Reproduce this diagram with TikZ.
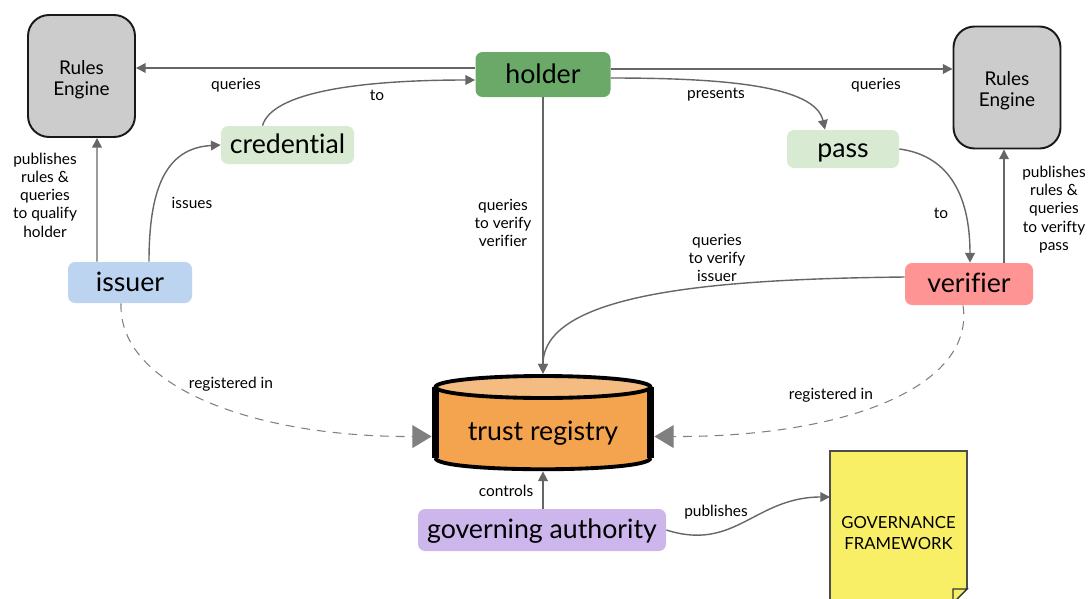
\documentclass[tikz,border=0pt]{standalone}
\usepackage{fontspec}
\setmainfont{Lato}[Ligatures=NoCommon]
\usetikzlibrary{arrows.meta}

\tikzset{
  party/.style={rounded corners=4pt, minimum height=#1*0.02cm, inner sep=0pt, text height=13.2pt, text depth=3pt, font=\fontsize{15.2}{16}\selectfont},
  engine/.style={draw=black!90, line width=1.1pt, fill=black!20, rounded corners=12pt, minimum width=107*0.02cm, minimum height=122*0.02cm, align=center, font=\fontsize{10.8}{12}\selectfont},
  lbl/.style={align=center, inner sep=0pt, font=\fontsize{8.8}{10.4}\selectfont},
  conn/.style={draw=black!60, line width=0.8pt, -{Triangle[length=5.5pt,width=5.5pt]}},
  regline/.style={draw=black!50, line width=0.6pt, dash pattern=on 5pt off 4pt, -{Triangle[length=11pt,width=13pt,color=black!50,fill=black!50]}}
}

\definecolor{holdergreen}{HTML}{6AA968}
\definecolor{palegreen}{HTML}{D9EAD3}
\definecolor{issuerblue}{HTML}{BDD4F1}
\definecolor{verifierred}{HTML}{FF9494}
\definecolor{authpurple}{HTML}{CCB6EC}
\definecolor{regorange}{HTML}{F4A44E}
\definecolor{regtop}{HTML}{F4BC80}
\definecolor{docyellow}{HTML}{F9EF66}

\begin{document}
\begin{tikzpicture}[x=0.02cm, y=-0.02cm, >=Stealth]
    \useasboundingbox (0,0) rectangle (1090,599);

    % Engines
    \node[engine] (ruleleft) at (81.5,76) {\rule{0pt}{12pt}Rules\\Engine};
    \node[engine] (ruleright) at (1007,87.5) {\rule{0pt}{12pt}Rules\\Engine};

    % --- Parties ---
    \node[party=45, fill=holdergreen, minimum width=135*0.02cm] (holder) at (543,74.5) {holder};
    \node[party=38, fill=palegreen, minimum width=133*0.02cm] (credential) at (287.5,145) {credential};
    \node[party=38, fill=palegreen, minimum width=112*0.02cm] (pass) at (843,149) {pass};
    \node[party=41, fill=issuerblue, minimum width=124*0.02cm] (issuer) at (130,282.5) {issuer};
    \node[party=42, fill=verifierred, minimum width=128*0.02cm] (verifier) at (969,284) {verifier};
    \node[party=42, fill=authpurple, minimum width=248*0.02cm] (authority) at (542,530) {governing authority};

    % Registry
    \fill[regorange] (435.5,387) -- (435.5,458) .. controls (435.5,473) and (650.5,473) .. (650.5,458) -- (650.5,387) -- cycle;
    \draw[black, line width=2.2pt] (435.5,458) .. controls (435.5,473) and (650.5,473) .. (650.5,458);
    \draw[black, line width=4pt] (435.5,387) -- (435.5,458);
    \draw[black, line width=4pt] (650.5,387) -- (650.5,458);
    \draw[black, line width=2.2pt, fill=regtop] (543,387) ellipse [x radius=2.15cm, y radius=0.22cm];
    \node[minimum width=222*0.02cm, minimum height=97*0.02cm, inner sep=0pt, text height=13.2pt, text depth=3pt, yshift=-9*0.02cm, font=\fontsize{15.2}{16}\selectfont] (registrytext) at (543,422.5) {trust registry};
    \node[minimum width=222*0.02cm, minimum height=97*0.02cm, inner sep=0pt] (registry) at (543,422.5) {};

    % Framework
    \node[draw=black!70, line width=0.8pt, fill=docyellow, minimum width=137*0.02cm, minimum height=164*0.02cm, inner sep=0pt, align=center, font=\fontsize{9.5}{11.4}\selectfont] (framework) at (898.5,533) {GOVERNANCE\\FRAMEWORK};
    \coordinate (frameworkin) at (830,497);
    \fill[white] (953,603) -- (967,589) -- (970,589) -- (970,603) -- cycle;
    \draw[black!80, line width=0.8pt] (967,589) -- (953,589) -- (953,603) -- cycle;

    % --- Connectors ---
    \draw[conn] ([shift={(0,-6.5)}]holder.west) -- ([shift={(0,-8)}]ruleleft.east);
    \draw[conn] ([shift={(0,-5.5)}]holder.east) -- ([shift={(0,-18.5)}]ruleright.west);
    \draw[conn] ([xshift=-25*0.02cm]credential.north) .. controls (272,92) and (360,80) .. ([shift={(0,5.5)}]holder.west);
    \draw[conn] ([xshift=19*0.02cm]issuer.north) .. controls (149,190) and (165,148) .. (credential.west);
    \draw[conn] ([xshift=-33*0.02cm]issuer.north) -- ([xshift=15.5*0.02cm]ruleleft.south);
    \draw[conn] ([shift={(0,3.5)}]holder.east) .. controls (720,78) and (815,85) .. ([xshift=-18*0.02cm]pass.north);
    \draw[conn] (pass.east) .. controls (945,155) and (970,190) .. ([xshift=1*0.02cm]verifier.north);
    \draw[conn] ([xshift=35*0.02cm]verifier.north) -- ([xshift=-3*0.02cm]ruleright.south);
    \draw[conn] (holder.south) -- (registry.north);
    \draw[conn] ([shift={(0,-7)}]verifier.west) .. controls (730,279) and (543,290) .. (registry.north);
    \draw[conn] (authority.north -| registry.south) -- (registry.south);
    \draw[conn] (authority.east) .. controls (735,552) and (755,497) .. (frameworkin);
    \draw[regline] ([xshift=-9*0.02cm]issuer.south) .. controls (118,385) and (250,437) .. ([yshift=-14*0.02cm]registry.west);
    \draw[regline] ([xshift=-6*0.02cm]verifier.south) .. controls (975,385) and (850,437) .. ([yshift=-14*0.02cm]registry.east);

    % Labels
    \node[lbl] (lblqueriesl) at (236,85) {queries};
    \node[lbl] (lbltol) at (377,95) {to};
    \node[lbl] (lblpresents) at (716,95) {presents};
    \node[lbl] (lblqueriesr) at (876,85) {queries};
    \node[lbl] (lblissues) at (192,203) {issues};
    \node[lbl] (lblpubl) at (45,195) {publishes\\rules \&\\queries\\to qualify\\holder};
    \node[lbl] (lblverifier) at (503,223) {queries\\to verify\\verifier};
    \node[lbl] (lblissuer) at (717,258) {queries\\to verify\\issuer};
    \node[lbl] (lbltor) at (941,213) {to};
    \node[lbl] (lblpubr) at (1054,209.5) {publishes\\rules \&\\queries\\to verifty\\pass};
    \node[lbl] (lblregl) at (231,384) {registered in};
    \node[lbl] (lblregr) at (831,395) {registered in};
    \node[lbl] (lblcontrols) at (506,491) {controls};
    \node[lbl] (lblpublishes) at (716,512) {publishes};
\end{tikzpicture}
\end{document}
